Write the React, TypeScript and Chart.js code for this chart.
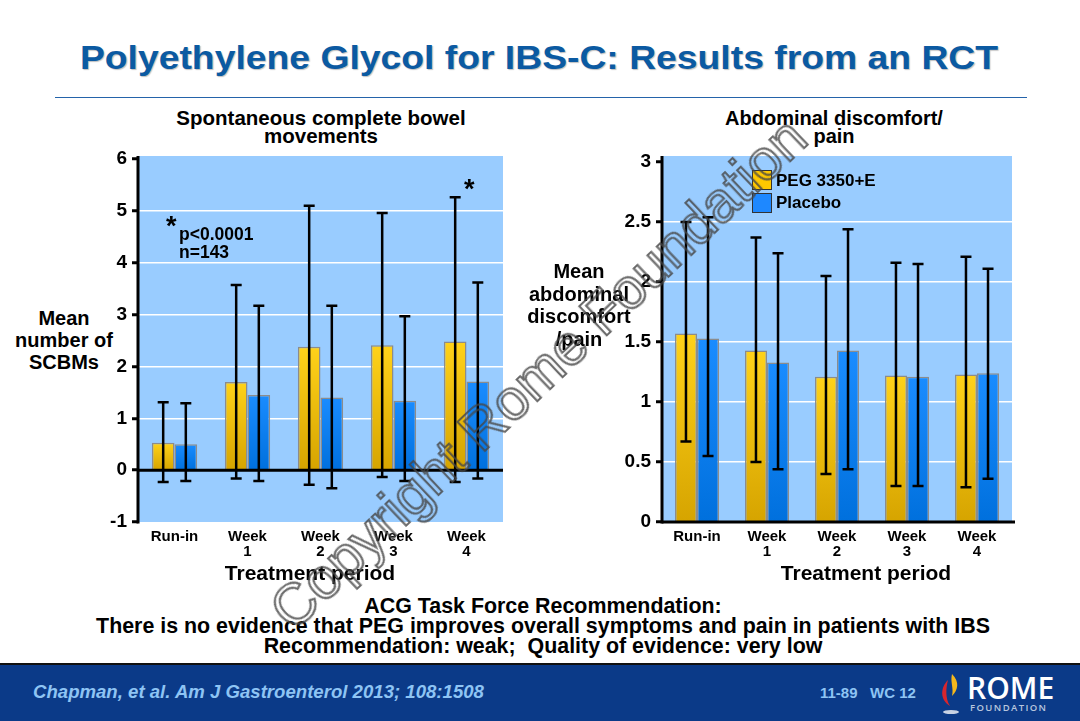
import React, { useEffect, useRef } from 'react';
import { Chart, registerables } from 'chart.js';

Chart.register(...registerables);

// ---------- data ----------
const categories: string[][] = [['Run-in'], ['Week', '1'], ['Week', '2'], ['Week', '3'], ['Week', '4']];
const seriesNames = ['PEG 3350+E', 'Placebo'];

const scbmPeg = [0.53, 1.7, 2.38, 2.41, 2.48];
const scbmPegUpper = [1.31, 3.57, 5.1, 4.96, 5.26];
const scbmPegLower = [-0.23, -0.16, -0.28, -0.13, -0.23];
const scbmPlacebo = [0.5, 1.45, 1.4, 1.34, 1.71];
const scbmPlaceboUpper = [1.29, 3.17, 3.17, 2.97, 3.62];
const scbmPlaceboLower = [-0.21, -0.21, -0.35, -0.21, -0.16];

const painPeg = [1.57, 1.43, 1.21, 1.22, 1.23];
const painPegUpper = [2.5, 2.37, 2.05, 2.16, 2.21];
const painPegLower = [0.67, 0.5, 0.4, 0.3, 0.29];
const painPlacebo = [1.53, 1.33, 1.43, 1.21, 1.24];
const painPlaceboUpper = [2.54, 2.24, 2.44, 2.15, 2.11];
const painPlaceboLower = [0.55, 0.44, 0.44, 0.3, 0.36];

const scbmTicks = { min: -1, max: 6, step: 1 };
const painTicks = { min: 0, max: 3, step: 0.5 };

// ---------- styles ----------
const FONT = "'Liberation Sans', Arial, sans-serif";
const PLOT_BG = '#99CCFF';
const YELLOW_TOP = '#FFD21A';
const YELLOW_BOTTOM = '#D6A400';
const BLUE_TOP = '#1A8CFF';
const BLUE_BOTTOM = '#0070DD';

function gradientFill(top: string, bottom: string) {
  return (ctx: any) => {
    const chart = ctx.chart;
    if (!chart.chartArea || ctx.type !== 'data') return top;
    const ys = chart.scales.y;
    const y0 = ys.getPixelForValue(ctx.raw);
    const y1 = ys.getPixelForValue(0);
    if (!isFinite(y0) || !isFinite(y1) || y0 === y1) return top;
    const g = chart.ctx.createLinearGradient(0, Math.min(y0, y1), 0, Math.max(y0, y1));
    g.addColorStop(0, top);
    g.addColorStop(1, bottom);
    return g;
  };
}

const slidePlugin = {
  id: 'slideDecor',
  beforeDraw(chart: any, _args: any, opts: any) {
    const { ctx, chartArea } = chart;
    ctx.save();
    ctx.fillStyle = PLOT_BG;
    ctx.fillRect(chartArea.left, chartArea.top - opts.extraTop, chartArea.right - chartArea.left, chartArea.bottom - chartArea.top + opts.extraTop);
    ctx.restore();
  },
  afterDatasetsDraw(chart: any, _args: any, opts: any) {
    const { ctx, chartArea } = chart;
    const ys = chart.scales.y;
    ctx.save();
    const y0 = ys.getPixelForValue(0);
    ctx.strokeStyle = '#000';
    ctx.lineWidth = 3;
    ctx.beginPath();
    ctx.moveTo(chartArea.left, y0);
    ctx.lineTo(chartArea.right + opts.extraRight, y0);
    ctx.stroke();
    ctx.beginPath();
    ctx.moveTo(chartArea.left, chartArea.top - opts.extraTop);
    ctx.lineTo(chartArea.left, chartArea.bottom + 1.5);
    ctx.stroke();
    ctx.lineWidth = 2.5;
    chart.data.datasets.forEach((ds: any, i: number) => {
      const meta = chart.getDatasetMeta(i);
      meta.data.forEach((bar: any, j: number) => {
        const x = bar.x;
        const yu = ys.getPixelForValue(ds.errUpper[j]);
        const yl = ys.getPixelForValue(ds.errLower[j]);
        ctx.beginPath();
        ctx.moveTo(x, yu);
        ctx.lineTo(x, yl);
        ctx.moveTo(x - 5.5, yu);
        ctx.lineTo(x + 5.5, yu);
        ctx.moveTo(x - 5.5, yl);
        ctx.lineTo(x + 5.5, yl);
        ctx.stroke();
      });
    });
    ctx.restore();
  },
};

function makeConfig(
  peg: number[], pegU: number[], pegL: number[],
  pla: number[], plaU: number[], plaL: number[],
  ticks: { min: number; max: number; step: number },
  yWidth: number, xHeight: number, padRight: number, extraTop: number, extraRight: number,
  catPct: number
): any {
  return {
    type: 'bar',
    data: {
      labels: categories,
      datasets: [
        {
          label: seriesNames[0], data: peg, errUpper: pegU, errLower: pegL,
          backgroundColor: gradientFill(YELLOW_TOP, YELLOW_BOTTOM),
          borderColor: '#8C8C8C', borderWidth: 1.5,
          categoryPercentage: catPct, barPercentage: 1,
        },
        {
          label: seriesNames[1], data: pla, errUpper: plaU, errLower: plaL,
          backgroundColor: gradientFill(BLUE_TOP, BLUE_BOTTOM),
          borderColor: '#8C8C8C', borderWidth: 1.5,
          categoryPercentage: catPct, barPercentage: 1,
        },
      ],
    },
    options: {
      animation: false,
      responsive: false,
      maintainAspectRatio: false,
      layout: { padding: { left: 0, right: padRight, top: 20, bottom: 0 } },
      plugins: {
        legend: { display: false },
        tooltip: { enabled: false },
        slideDecor: { extraTop, extraRight },
      },
      scales: {
        x: {
          grid: { display: false, drawTicks: false },
          border: { display: false },
          ticks: {
            color: '#000', padding: 8, maxRotation: 0, autoSkip: false,
            font: { family: FONT, size: 15, weight: 'bold', lineHeight: 0.95 },
          },
          afterFit: (s: any) => { s.height = xHeight; },
        },
        y: {
          min: ticks.min, max: ticks.max,
          grid: {
            color: (c: any) => {
              const v = c.tick ? c.tick.value : 0;
              return v === ticks.min || v === ticks.max || v === 0 ? 'rgba(0,0,0,0)' : '#FFFFFF';
            },
            lineWidth: 1.5,
            tickColor: '#000', tickWidth: 3, tickLength: 6,
          },
          border: { display: false },
          ticks: {
            stepSize: ticks.step, color: '#000', padding: 5,
            font: { family: FONT, size: 19, weight: 'bold' },
            callback: (v: any) => String(Number(v)),
          },
          afterFit: (s: any) => { s.width = yWidth; },
        },
      },
    },
    plugins: [slidePlugin],
  };
}

function ChartCanvas(props: { config: () => any; left: number; top: number; width: number; height: number }) {
  const ref = useRef<HTMLCanvasElement | null>(null);
  useEffect(() => {
    if (!ref.current) return;
    const chart = new Chart(ref.current, props.config());
    return () => chart.destroy();
  }, []);
  return (
    <canvas
      ref={ref}
      width={props.width}
      height={props.height}
      style={{ position: 'absolute', left: props.left, top: props.top, width: props.width, height: props.height }}
    />
  );
}

const abs = (l: number, t: number, extra: any = {}): any => ({ position: 'absolute', left: l, top: t, ...extra });

export default function App() {
  const bold = { fontFamily: FONT, fontWeight: 'bold', color: '#000' };
  return (
    <div style={{ position: 'absolute', left: 0, top: 0, width: 1080, height: 721, background: '#fff', overflow: 'hidden' }}>
      {/* Title */}
      <div style={abs(0, 37, { width: 1080, textAlign: 'center', fontFamily: FONT, fontWeight: 'bold', fontSize: 34, color: '#0B5AA2', textShadow: '1px 1px 1px rgba(0,0,0,0.25)', lineHeight: '40px', transform: 'translateX(-1px) scaleX(1.097)', transformOrigin: '540px 50%' })}>
        Polyethylene Glycol for IBS-C: Results from an RCT
      </div>
      <div style={abs(55, 97, { width: 972, height: 0, borderTop: '1.5px solid #2463AA' })} />

      {/* Left chart */}
      <div style={abs(120, 109, { width: 402, textAlign: 'center', ...bold, fontSize: 20.5, lineHeight: '18px' })}>
        Spontaneous complete bowel<br />movements
      </div>
      <div style={abs(4, 307, { width: 120, textAlign: 'center', ...bold, fontSize: 20, lineHeight: '22px' })}>
        Mean<br />number of<br />SCBMs
      </div>
      <ChartCanvas
        config={() => makeConfig(scbmPeg, scbmPegUpper, scbmPegLower, scbmPlacebo, scbmPlaceboUpper, scbmPlaceboLower, scbmTicks, 38, 50, 37, 3, 0, 0.62)}
        left={100} top={139} width={440} height={433}
      />
      <div style={abs(166, 213, { ...bold, fontSize: 27, lineHeight: '27px' })}>*</div>
      <div style={abs(179, 225, { ...bold, fontSize: 17.5, lineHeight: '18px' })}>p&lt;0.0001<br />n=143</div>
      <div style={abs(464, 176, { ...bold, fontSize: 27, lineHeight: '27px' })}>*</div>
      <div style={abs(140, 562, { width: 340, textAlign: 'center', ...bold, fontSize: 21, lineHeight: '22px' })}>Treatment period</div>

      {/* Right chart */}
      <div style={abs(684, 109, { width: 300, textAlign: 'center', ...bold, fontSize: 20, lineHeight: '18px' })}>
        Abdominal discomfort/<br />pain
      </div>
      <div style={abs(519, 260, { width: 120, textAlign: 'center', ...bold, fontSize: 20, lineHeight: '22.5px' })}>
        Mean<br />abdominal<br />discomfort<br />/pain
      </div>
      <ChartCanvas
        config={() => makeConfig(painPeg, painPegUpper, painPegLower, painPlacebo, painPlaceboUpper, painPlaceboLower, painTicks, 40, 50, 30, 6, 3, 0.63)}
        left={622} top={142} width={420} height={430}
      />
      {/* legend */}
      <div style={abs(752, 170, { width: 18, height: 18, background: '#FFC800', border: '1px solid #333' })} />
      <div style={abs(752, 193, { width: 18, height: 18, background: '#1E88FF', border: '1px solid #333' })} />
      <div style={abs(776, 170, { ...bold, fontSize: 17, lineHeight: '22px' })}>{seriesNames[0]}</div>
      <div style={abs(776, 192, { ...bold, fontSize: 17, lineHeight: '22px' })}>{seriesNames[1]}</div>
      <div style={abs(716, 562, { width: 300, textAlign: 'center', ...bold, fontSize: 21, lineHeight: '22px' })}>Treatment period</div>

      {/* Recommendation */}
      <div style={abs(0, 596, { width: 1086, textAlign: 'center', fontFamily: FONT, fontWeight: 'bold', fontSize: 21.4, lineHeight: '20px', color: '#000' })}>
        ACG Task Force Recommendation:<br />
        There is no evidence that PEG improves overall symptoms and pain in patients with IBS<br />
        Recommendation: weak;&nbsp; Quality of evidence: very low
      </div>

      {/* Footer */}
      <div style={abs(0, 663, { width: 1080, height: 58, background: '#0B3A88', borderTop: '2px solid #111' })} />
      <div style={abs(33, 681, { fontFamily: FONT, fontStyle: 'italic', fontWeight: 'bold', fontSize: 18.6, color: '#8EC4F4', lineHeight: '22px' })}>
        Chapman, et al. Am J Gastroenterol 2013; 108:1508
      </div>
      <div style={abs(820, 684, { fontFamily: FONT, fontWeight: 'bold', fontSize: 15, color: '#8EC4F4', lineHeight: '18px', whiteSpace: 'pre' })}>
        11-89   WC 12
      </div>
      <svg style={abs(936, 672)} width={30} height={46} viewBox="0 0 30 46">
        <path d="M16 2 C24 10 22 18 16 24 C18 16 14 10 16 2 Z" fill="#F5B81C" />
        <path d="M12 8 C4 16 4 28 14 34 C9 26 10 16 12 8 Z" fill="#D7262E" />
        <ellipse cx="15" cy="40" rx="8" ry="2" fill="#C8D2E4" />
      </svg>
      <div style={abs(967, 672, { fontFamily: "'Open Sans', 'Liberation Sans', sans-serif", fontWeight: 600, fontSize: 30, color: '#fff', lineHeight: '32px', letterSpacing: 0 })}>ROME</div>
      <div style={abs(970, 702, { fontFamily: "'Open Sans', 'Liberation Sans', sans-serif", fontWeight: 600, fontSize: 9.5, color: '#B8C6DE', lineHeight: '12px', letterSpacing: 1.4 })}>FOUNDATION</div>

      {/* Watermark */}
      <div style={abs(538 - 400, 373 - 35, {
        width: 800, height: 70, textAlign: 'center', fontFamily: FONT, fontSize: 57, lineHeight: '70px',
        color: 'rgba(0,0,0,0)', WebkitTextStroke: '2.2px rgba(70,70,70,0.8)', transform: 'rotate(-43.5deg)', pointerEvents: 'none', whiteSpace: 'nowrap',
      })}>
        Copyright Rome Foundation
      </div>
    </div>
  );
}
